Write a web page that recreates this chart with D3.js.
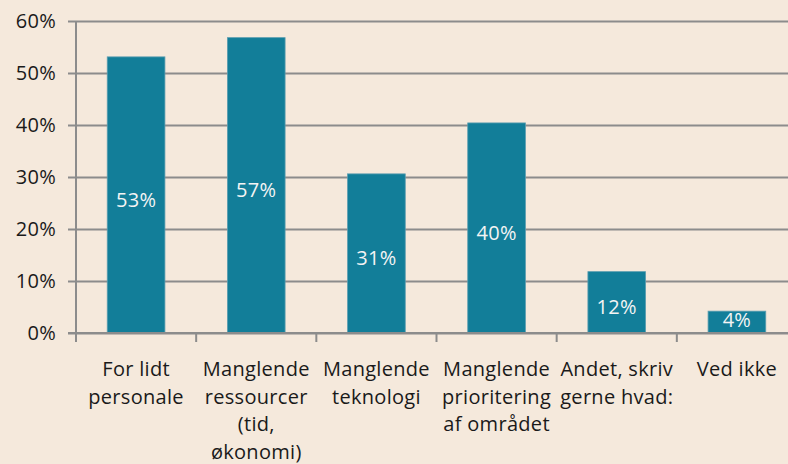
<!DOCTYPE html>
<html>
<head>
<meta charset="utf-8">
<script src="https://cdn.jsdelivr.net/npm/d3@7"></script>
<style>
  body { margin: 0; background: #f5e9dc; }
  svg { display: block; }
  text { font-family: "Open Sans", sans-serif; }
</style>
</head>
<body>
<div id="chart"></div>
<script>
// category labels, already split the way the picture wraps them
var categories = [
    ["For lidt", "personale"],
    ["Manglende", "ressourcer", "(tid,", "økonomi)"],
    ["Manglende", "teknologi"],
    ["Manglende", "prioritering", "af området"],
    ["Andet, skriv", "gerne hvad:"],
    ["Ved ikke"]
];
// bar heights; labels show them rounded
var values = [53.1, 56.8, 30.6, 40.4, 11.8, 4.2];
var yTicks = [0, 10, 20, 30, 40, 50, 60];

var w = 788, h = 464;
var plotLeft = 76, plotRight = 797, plotTop = 21, plotBottom = 333;
var gridColor = "#8c8c8c";
var barColor = "#127e99";
var fontSize = "20px";

var svg = d3.select("#chart")
    .append("svg")
    .attr("width", w)
    .attr("height", h);

svg.append("rect")
    .attr("width", w)
    .attr("height", h)
    .attr("fill", "#f5e9dc");

var x = d3.scaleBand()
    .domain(d3.range(values.length))
    .range([plotLeft, plotRight])
    .paddingInner(0.52)
    .paddingOuter(0.26);

var y = d3.scaleLinear()
    .domain([0, 60])
    .range([plotBottom, plotTop]);

// gridlines + y tick labels
var yAxis = d3.axisLeft(y)
    .tickValues(yTicks)
    .tickSize(-(w - plotLeft))
    .tickPadding(20)
    .tickFormat(function(d) { return d + "%"; });

var gy = svg.append("g")
    .attr("transform", "translate(" + plotLeft + ",0)")
    .call(yAxis);
gy.select(".domain").remove();
gy.selectAll(".tick line")
    .attr("x1", -8)
    .attr("stroke", gridColor)
    .attr("stroke-width", 2);
gy.selectAll(".tick text")
    .attr("fill", "#1a1a1a")
    .style("font-size", fontSize)
    .style("letter-spacing", "0.3px");

// y axis line
svg.append("line")
    .attr("x1", plotLeft).attr("x2", plotLeft)
    .attr("y1", plotTop).attr("y2", plotBottom)
    .attr("stroke", gridColor)
    .attr("stroke-width", 2);

// bars
svg.selectAll("rect.bar")
    .data(values)
    .enter()
    .append("rect")
    .attr("class", "bar")
    .attr("x", function(d, i) { return x(i); })
    .attr("y", function(d) { return y(d); })
    .attr("width", x.bandwidth())
    .attr("height", function(d) { return y(0) - y(d); })
    .attr("fill", barColor)
    .attr("stroke", "#5b9db0")
    .attr("stroke-width", 0.8);

// baseline drawn over bars
svg.append("line")
    .attr("x1", plotLeft - 8).attr("x2", w)
    .attr("y1", y(0)).attr("y2", y(0))
    .attr("stroke", gridColor)
    .attr("stroke-width", 2);

// category ticks below axis
var step = x.step();
svg.selectAll("line.ctick")
    .data(d3.range(values.length))
    .enter()
    .append("line")
    .attr("class", "ctick")
    .attr("x1", function(i) { return x(i) - x.paddingOuter() * step; })
    .attr("x2", function(i) { return x(i) - x.paddingOuter() * step; })
    .attr("y1", y(0))
    .attr("y2", y(0) + 9)
    .attr("stroke", gridColor)
    .attr("stroke-width", 2);

// value labels inside bars
var pct = d3.format(".0f");
svg.selectAll("text.val")
    .data(values)
    .enter()
    .append("text")
    .attr("class", "val")
    .attr("x", function(d, i) { return x(i) + x.bandwidth() / 2; })
    .attr("y", function(d) { return Math.min((y(d) + y(0)) / 2 + 12, y(0) - 6); })
    .attr("text-anchor", "middle")
    .attr("fill", "#f4f4f4")
    .style("font-size", fontSize)
    .style("letter-spacing", "0.3px")
    .text(function(d) { return pct(d) + "%"; });

// category labels
var cat = svg.selectAll("text.cat")
    .data(categories)
    .enter()
    .append("text")
    .attr("class", "cat")
    .attr("text-anchor", "middle")
    .attr("fill", "#1a1a1a")
    .style("font-size", fontSize)
    .style("letter-spacing", "0.3px");

cat.selectAll("tspan")
    .data(function(d, i) { return d.map(function(s) { return { s: s, i: i }; }); })
    .enter()
    .append("tspan")
    .attr("x", function(d) { return x(d.i) + x.bandwidth() / 2; })
    .attr("y", function(d, j) { return 376 + j * 27.7; })
    .text(function(d) { return d.s; });
</script>
</body>
</html>
